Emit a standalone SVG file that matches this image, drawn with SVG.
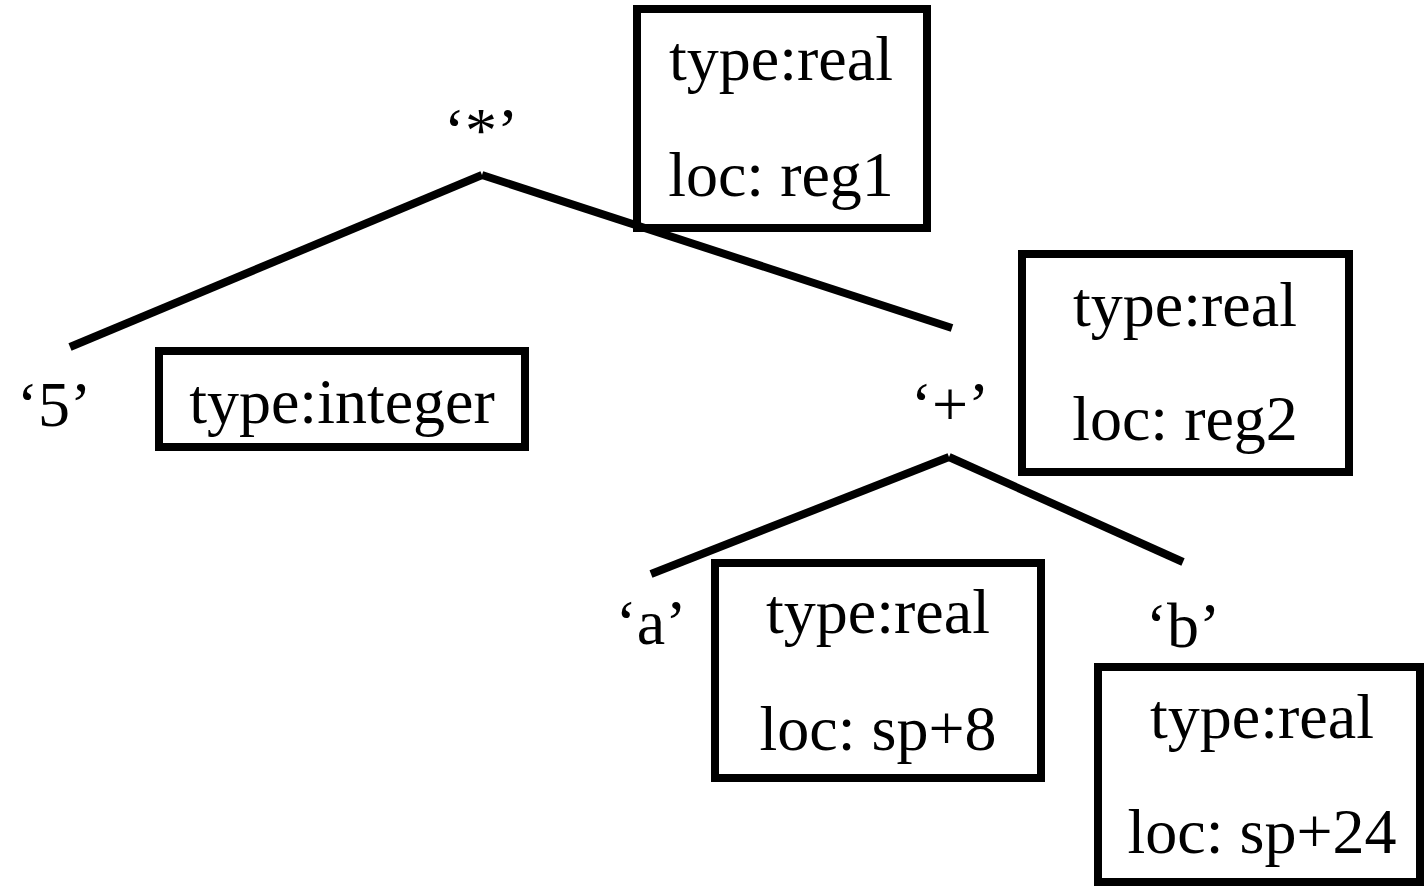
<svg xmlns="http://www.w3.org/2000/svg" width="1426" height="889" viewBox="0 0 1426 889">
<style>
.box{fill:none;stroke:#000;stroke-width:8}
.edge{stroke:#000;stroke-width:8;fill:none}
text{font-family:"Liberation Serif","Times New Roman",serif;font-size:64px;fill:#000;text-anchor:middle}
</style>
<rect width="1426" height="889" fill="#fff"/>
<g id="connectors">
<line class="edge" x1="70" y1="347" x2="482" y2="175"/>
<line class="edge" x1="482" y1="175" x2="952" y2="328"/>
<line class="edge" x1="651" y1="574" x2="949" y2="457"/>
<line class="edge" x1="949" y1="457" x2="1183" y2="562"/>
</g>
<g id="n-mul"><text x="481" y="152">‘*’</text></g>
<g id="n-mul-attr"><rect class="box" x="637" y="9" width="290" height="219"/><text x="781" y="80">type:real</text><text x="781" y="196">loc: reg1</text></g>
<g id="n-5"><text x="54" y="426">‘5’</text></g>
<g id="n-5-attr"><rect class="box" x="159" y="351" width="366" height="96"/><text x="342" y="423">type:integer</text></g>
<g id="n-plus"><text x="950" y="426">‘+’</text></g>
<g id="n-plus-attr"><rect class="box" x="1022" y="254" width="327" height="218"/><text x="1185" y="326">type:real</text><text x="1185" y="440">loc: reg2</text></g>
<g id="n-a"><text x="651" y="644">‘a’</text></g>
<g id="n-a-attr"><rect class="box" x="715" y="563" width="326" height="215"/><text x="878" y="633">type:real</text><text x="878" y="750">loc: sp+8</text></g>
<g id="n-b"><text x="1183" y="647">‘b’</text></g>
<g id="n-b-attr"><rect class="box" x="1098" y="667" width="322" height="215"/><text x="1262" y="738">type:real</text><text x="1262" y="853">loc: sp+24</text></g>
</svg>
